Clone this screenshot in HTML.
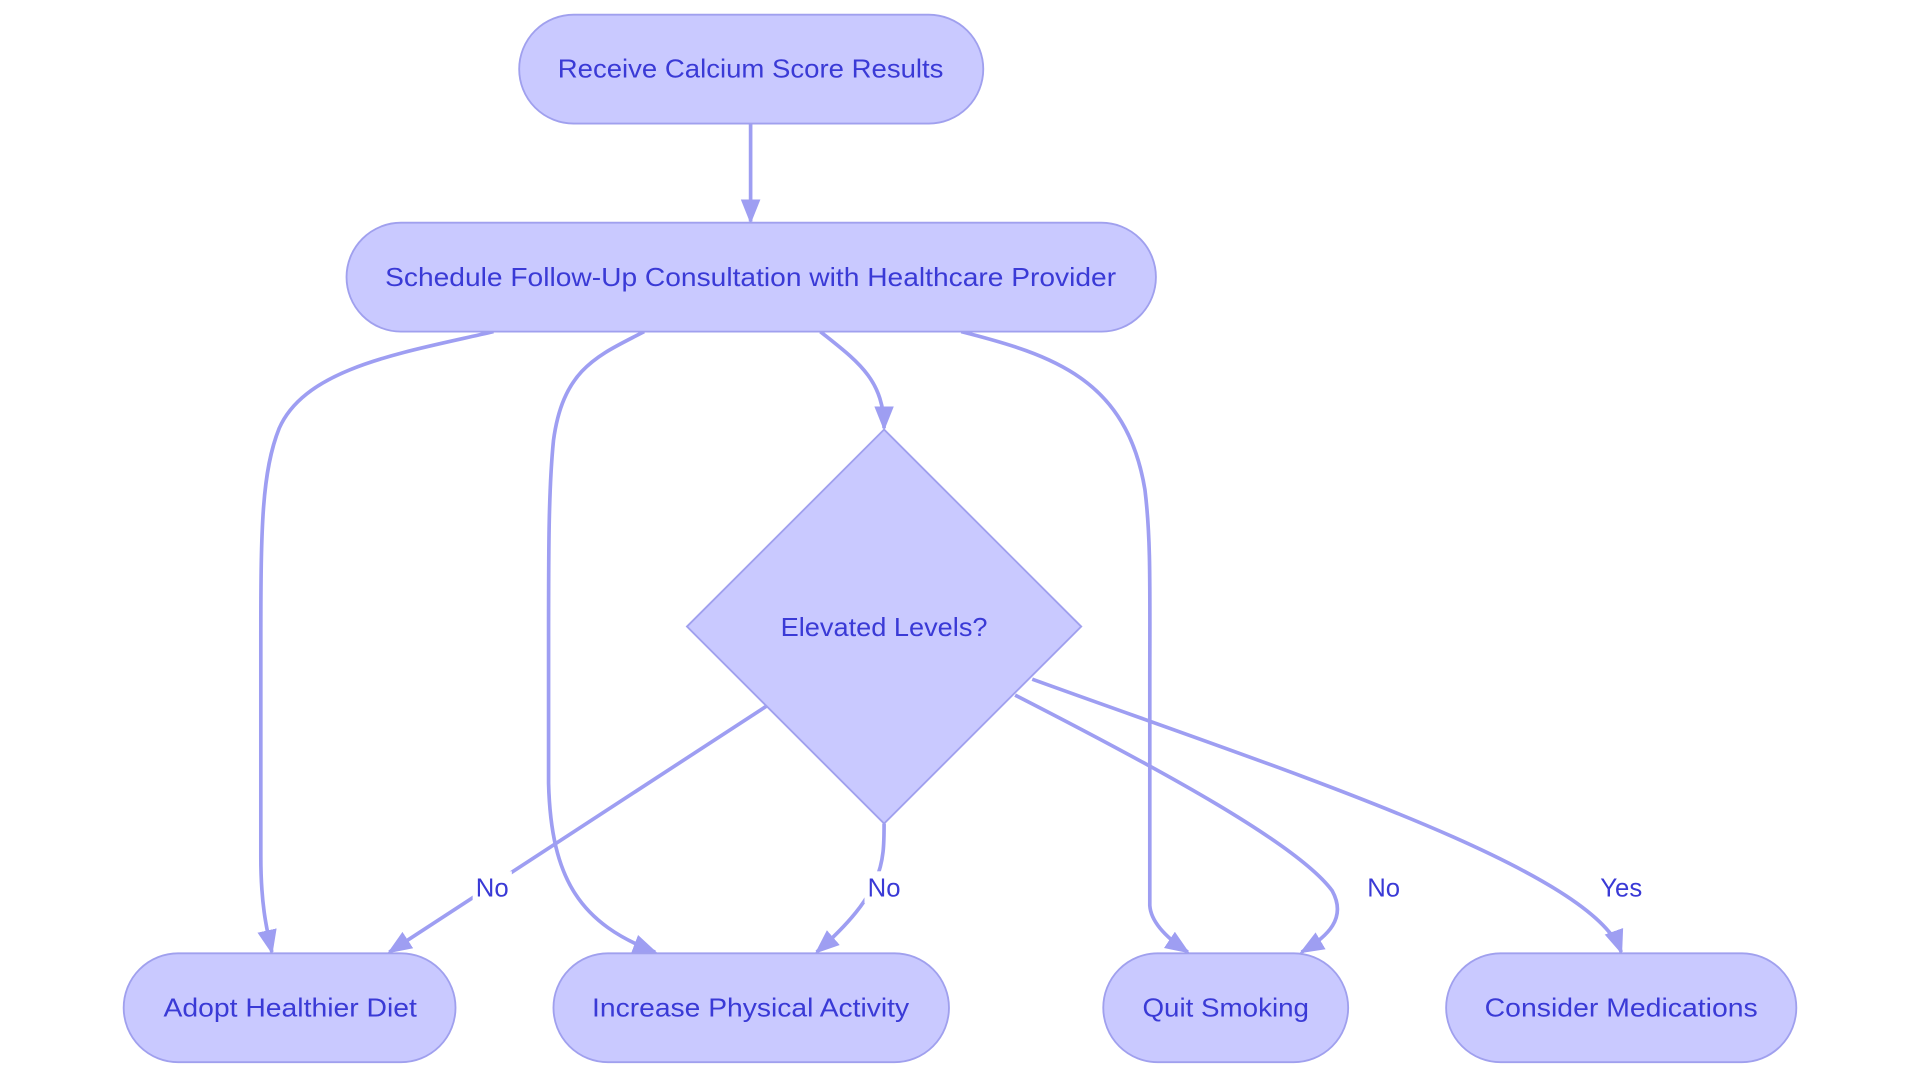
<!DOCTYPE html>
<html><head><meta charset="utf-8"><style>
html,body{margin:0;padding:0;background:#fff;width:1920px;height:1083px;overflow:hidden}
svg{display:block}
text{font-family:"Liberation Sans",sans-serif;font-size:21px;fill:#3a3ad6;text-anchor:middle;dominant-baseline:central}
</style></head><body>
<svg width="1920" height="1083" viewBox="0 0 1568 885" preserveAspectRatio="none">
<defs>
<marker id="b" viewBox="0 0 10 10" refX="9" refY="5" markerWidth="20" markerHeight="20" orient="auto" markerUnits="userSpaceOnUse"><path d="M0,1L10,5L0,9z" fill="#9e9ef2"/></marker></defs>
<g fill="none" stroke="#9e9ef2" stroke-width="3" marker-end="url(#b)">
<path d="M613,101 L613,181"/>
<path d="M403,271 C330,288 250,300 228,350 C214,385 213,430 213,520 L213,700 C213,740 218,760 222,778"/>
<path d="M526,271 C490,290 460,300 452,360 C448,400 448,450 448,520 L448,640 C450,720 475,755 535,778"/>
<path d="M670,271 C700,295 722,310 722,350"/>
<path d="M785,271 C860,290 920,310 935,400 C940,440 939,480 939,560 L939,740 C940,755 955,768 970,778"/>
<path d="M626,577 L318,778"/>
<path d="M722,673 C722,705 722,730 667,778"/>
<path d="M829,568 C950,630 1060,690 1088,728 C1100,750 1085,765 1063,778"/>
<path d="M843,555 C1050,630 1300,710 1324,778"/>
</g>
<g fill="#c9c9ff" stroke="#a0a0ee" stroke-width="1.5">
<rect x="424" y="12" width="379" height="89" rx="44.5"/>
<rect x="283" y="182" width="661" height="89" rx="44.5"/>
<path d="M722,351 L883,512 L722,673 L561,512 Z"/>
<rect x="101" y="779" width="271" height="89" rx="44.5"/>
<rect x="452" y="779" width="323" height="89" rx="44.5"/>
<rect x="901" y="779" width="200" height="89" rx="44.5"/>
<rect x="1181" y="779" width="286" height="89" rx="44.5"/>
</g>
<g fill="#fff"><rect x="386" y="712" width="32" height="26"/><rect x="706" y="712" width="32" height="26"/><rect x="1114" y="712" width="32" height="26"/><rect x="1304" y="712" width="40" height="26"/></g>
<text x="613" y="57" textLength="315" lengthAdjust="spacingAndGlyphs">Receive Calcium Score Results</text>
<text x="613" y="227" textLength="597" lengthAdjust="spacingAndGlyphs">Schedule Follow-Up Consultation with Healthcare Provider</text>
<text x="722" y="513" textLength="169" lengthAdjust="spacingAndGlyphs">Elevated Levels?</text>
<text x="237" y="824" textLength="207" lengthAdjust="spacingAndGlyphs">Adopt Healthier Diet</text>
<text x="613" y="824" textLength="259" lengthAdjust="spacingAndGlyphs">Increase Physical Activity</text>
<text x="1001" y="824" textLength="136" lengthAdjust="spacingAndGlyphs">Quit Smoking</text>
<text x="1324" y="824" textLength="223" lengthAdjust="spacingAndGlyphs">Consider Medications</text>
<text x="402" y="726">No</text>
<text x="722" y="726">No</text>
<text x="1130" y="726">No</text>
<text x="1324" y="726">Yes</text>
</svg>
</body></html>
